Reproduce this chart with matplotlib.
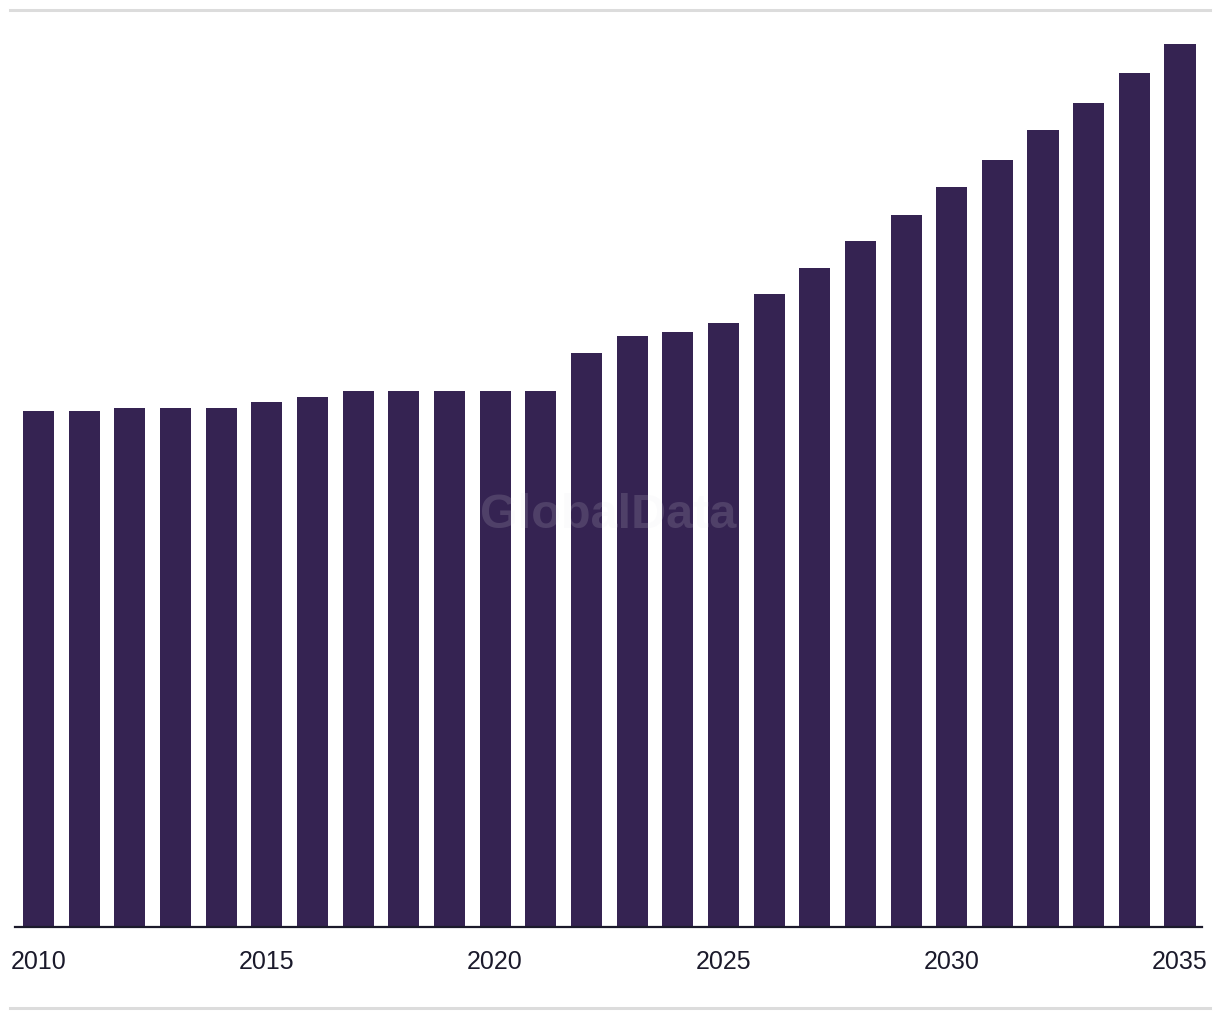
#!/usr/bin/env python
# -*- coding: utf-8 -*-
"""Annual bar chart, 2010-2035, GlobalData style."""
import matplotlib

matplotlib.use("Agg")
import matplotlib.pyplot as plt
from matplotlib.lines import Line2D

# Data (arbitrary units)
years = list(range(2010, 2036))
values = [
    51.6, 51.6, 51.9, 51.9, 51.9, 52.5, 53.0, 53.6, 53.6, 53.6, 53.6, 53.6,
    57.4, 59.1, 59.5, 60.4, 63.3, 65.9, 68.6, 71.2, 74.0, 76.7, 79.7, 82.4,
    85.4, 88.3,
]
tick_years = [2010, 2015, 2020, 2025, 2030, 2035]

BAR = "#352352"
TEXT = "#1b1a2b"
RULE = "#dcdcdc"


def main():
    W, H = 1220, 1020
    fig = plt.figure(figsize=(W / 100, H / 100), dpi=100)

    # axes box in pixels: x 15..1202, y 21..928 (from top)
    left, right, top, bottom = 15, 1202, 21, 928
    ax = fig.add_axes([left / W, 1 - bottom / H, (right - left) / W,
                       (bottom - top) / H])

    ax.bar(years, values, width=0.68, color=BAR, zorder=2)

    ax.set_xlim(2009.485, 2035.482)
    ax.set_ylim(0, (bottom - top) / 10)

    for s in ["top", "right", "left"]:
        ax.spines[s].set_visible(False)
    ax.spines["bottom"].set_color(TEXT)
    ax.spines["bottom"].set_linewidth(1.6)
    ax.spines["bottom"].set_zorder(3)

    ax.set_yticks([])
    ax.set_xticks(tick_years)
    ax.set_xticklabels([str(y) for y in tick_years])
    ax.tick_params(axis="x", length=0, pad=16, labelsize=18, labelcolor=TEXT)
    for lab in ax.get_xticklabels():
        lab.set_fontfamily("Liberation Sans")

    # watermark
    ax.text(0.5, 0.455, "GlobalData", transform=ax.transAxes, ha="center",
            va="center", fontsize=35, fontweight="bold",
            family="Liberation Sans", color="#e6e6eb", alpha=0.15, zorder=4)

    # light rules above and below the chart
    fig.add_artist(Line2D([10 / W, 1210 / W], [1 - 11 / H, 1 - 11 / H],
                          color=RULE, lw=2.2))
    fig.add_artist(Line2D([10 / W, 1210 / W], [1 - 1009 / H, 1 - 1009 / H],
                          color=RULE, lw=2.2))

    fig.savefig("out.png", dpi=100)


if __name__ == "__main__":
    main()
